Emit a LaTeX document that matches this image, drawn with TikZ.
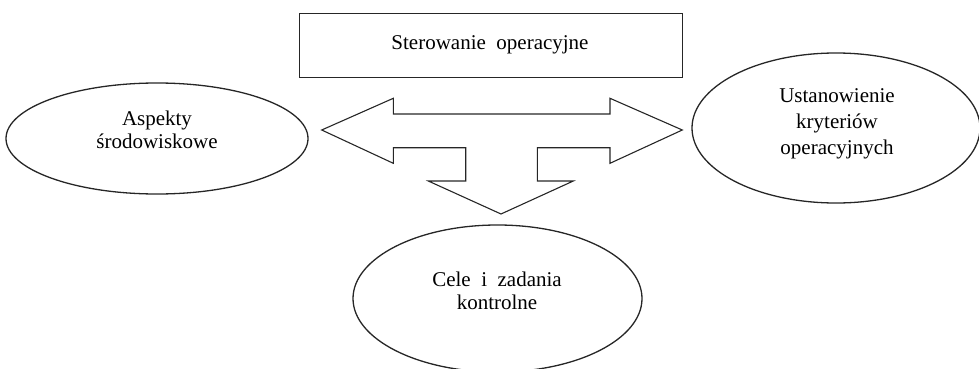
\documentclass[tikz,border=0pt]{standalone}
\usepackage{fontspec}
\setmainfont{Liberation Serif}
\usetikzlibrary{shapes.geometric}
\begin{document}
\begin{tikzpicture}[x=1pt,y=-1pt,
  outline/.style={draw=black!85,line width=1.3pt},
  label/.style={font=\fontsize{21}{23}\selectfont,align=center,inner sep=0pt},
  oval/.style={outline,ellipse,inner sep=0pt}]
\useasboundingbox (0,0) rectangle (979,369);
% top box
\node[outline,minimum width=383pt,minimum height=64pt,inner sep=0pt] (box) at (491,45.3) {};
\node[label] (boxtext) at (490,45) {Sterowanie\ \ operacyjne};
% ellipses
\node[oval,minimum width=302pt,minimum height=111pt] (left) at (157,138.5) {};
\node[oval,minimum width=288pt,minimum height=150pt] (right) at (836,128) {};
\node[oval,minimum width=289pt,minimum height=147pt] (bottom) at (497.5,298.5) {};
% texts
\node[label] (lefttext) at (157,130) {Aspekty\\środowiskowe};
\node[label,font=\fontsize{21}{26}\selectfont] (righttext) at (837,124) {Ustanowienie\\kryteriów\\operacyjnych};
\node[label] (bottomtext) at (497,291) {Cele\ \ i\ \ zadania\\kontrolne};
% three-way arrow
\draw[outline,line width=1.1pt,line join=miter] (321.7,130) -- (393.3,98.3) -- (393.3,114) -- (610,114) -- (610,98.3)
  -- (682.3,130) -- (610,163.3) -- (610,147.7) -- (537.3,147.7) -- (537.3,181)
  -- (573.3,181) -- (501,214) -- (428.3,181) -- (465.7,181) -- (465.7,147.7)
  -- (393.3,147.7) -- (393.3,163.3) -- cycle;
\end{tikzpicture}
\end{document}
